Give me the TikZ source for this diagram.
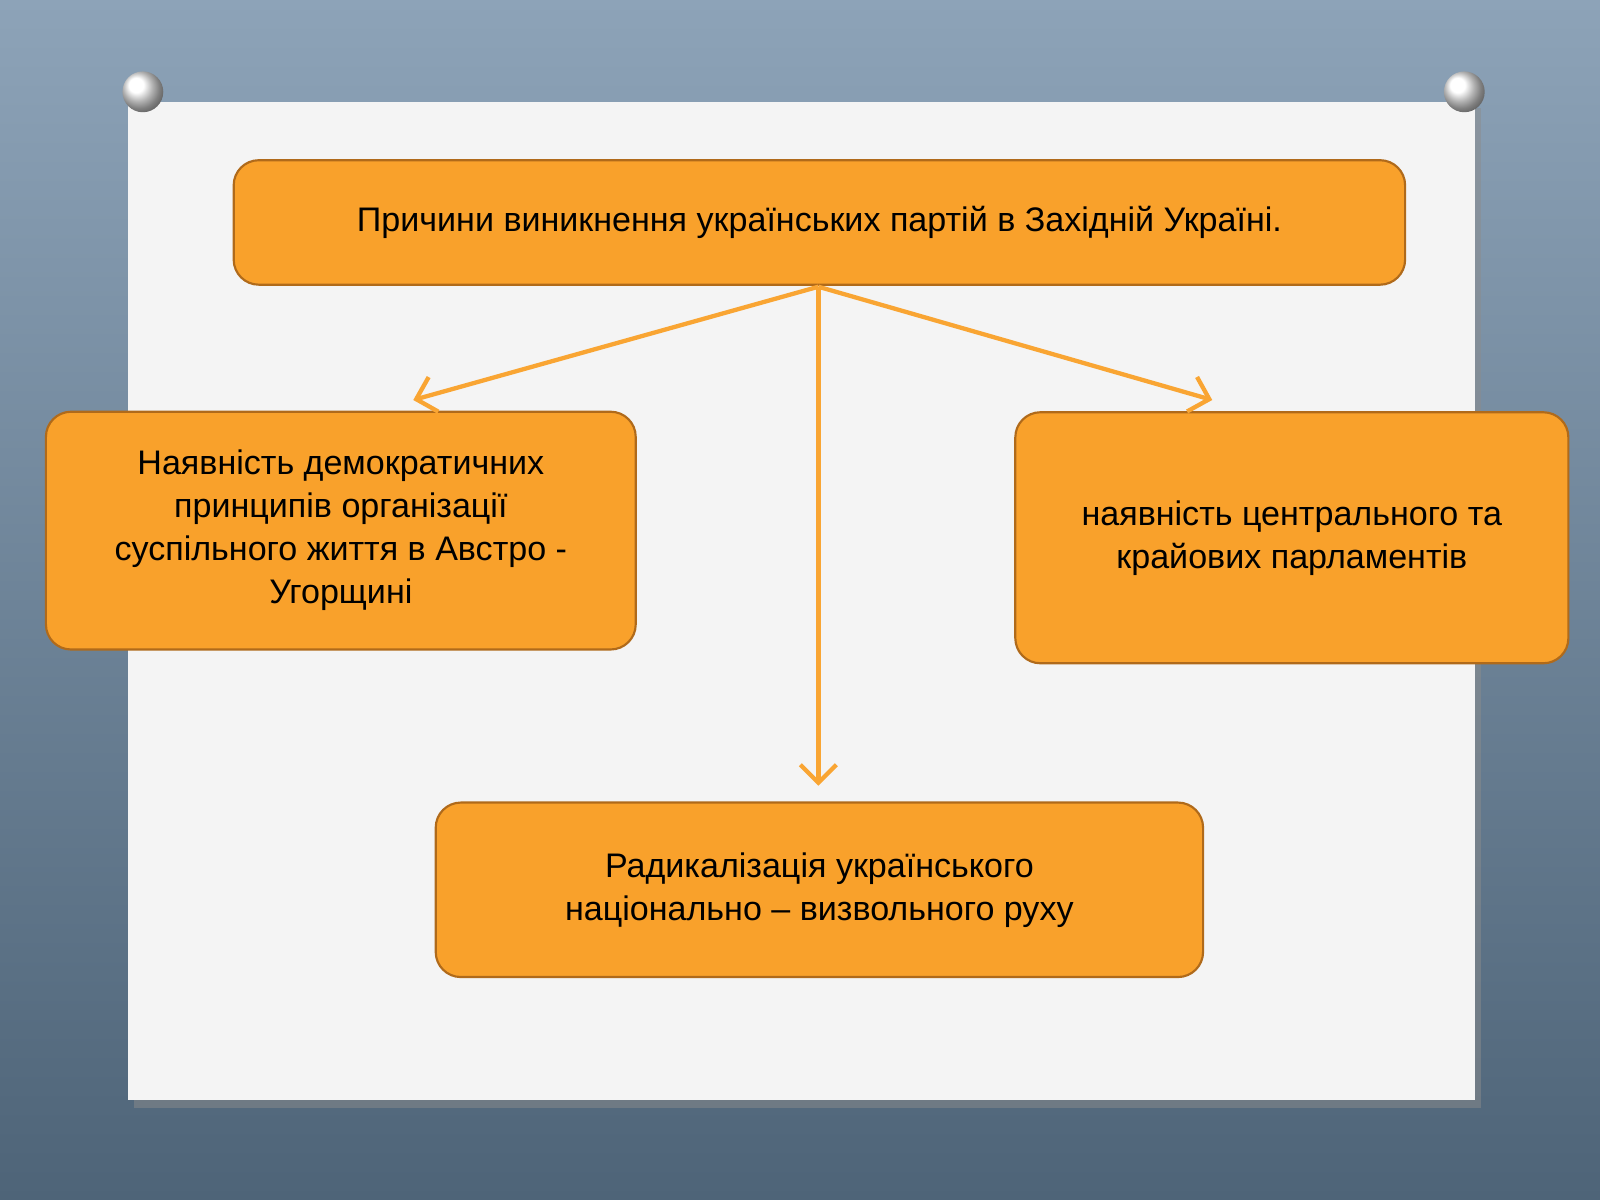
\documentclass[tikz,border=0pt]{standalone}
\usepackage{fontspec}
\setmainfont{Liberation Sans}
\usetikzlibrary{arrows.meta}
\definecolor{boxfill}{HTML}{F9A12B}
\definecolor{boxline}{HTML}{B06A1A}
\definecolor{arrowcol}{HTML}{F9A533}
\definecolor{bgtop}{HTML}{8DA3B8}
\definecolor{bgbot}{HTML}{4E6478}
\definecolor{paper}{HTML}{F4F4F4}
\begin{document}
\begin{tikzpicture}[x=0.02cm,y=-0.02cm,
    box/.style={draw=boxline, line width=1.2pt, fill=boxfill, rounded corners=14pt,
      align=center, font=\fontsize{19}{24}\selectfont, inner sep=0pt},
    link/.style={draw=arrowcol, line width=2.4pt, -{Straight Barb[length=10pt,width=20pt]}},
    pin/.style={ball color=white, shading=ball}]

      \shade[top color=bgtop, bottom color=bgbot] (0,0) rectangle (1568,1176);
      \fill[black!45, opacity=0.5] (131,106) rectangle (1451,1086);
      \fill[paper] (125,100) rectangle (1445,1078);
      \shade[pin] (140,90) circle (20);
      \shade[pin] (1435,90) circle (20);

      \node[box, minimum width=1148*0.02cm, minimum height=122*0.02cm] (top) at (803,218)
        {Причини виникнення українських партій в Західній Україні.};
      \node[box, minimum width=578*0.02cm, minimum height=233*0.02cm] (left) at (334,520)
        {Наявність демократичних\\принципів організації\\суспільного життя в Австро -\\Угорщині};
      \node[box, minimum width=542*0.02cm, minimum height=246*0.02cm] (right) at (1266,527)
        {наявність центрального та\\крайових парламентів};
      \node[box, minimum width=752*0.02cm, minimum height=171*0.02cm] (bottom) at (803,872)
        {Радикалізація українського\\національно -- визвольного руху};

      \coordinate (src) at (802,281);
      \coordinate (lend) at (405,392);
      \coordinate (rend) at (1188,392);
      \coordinate (bend) at (802,770);
      \draw[link] (src) -- (lend);
      \draw[link] (src) -- (rend);
      \draw[link] (src) -- (bend);

\end{tikzpicture}
\end{document}
